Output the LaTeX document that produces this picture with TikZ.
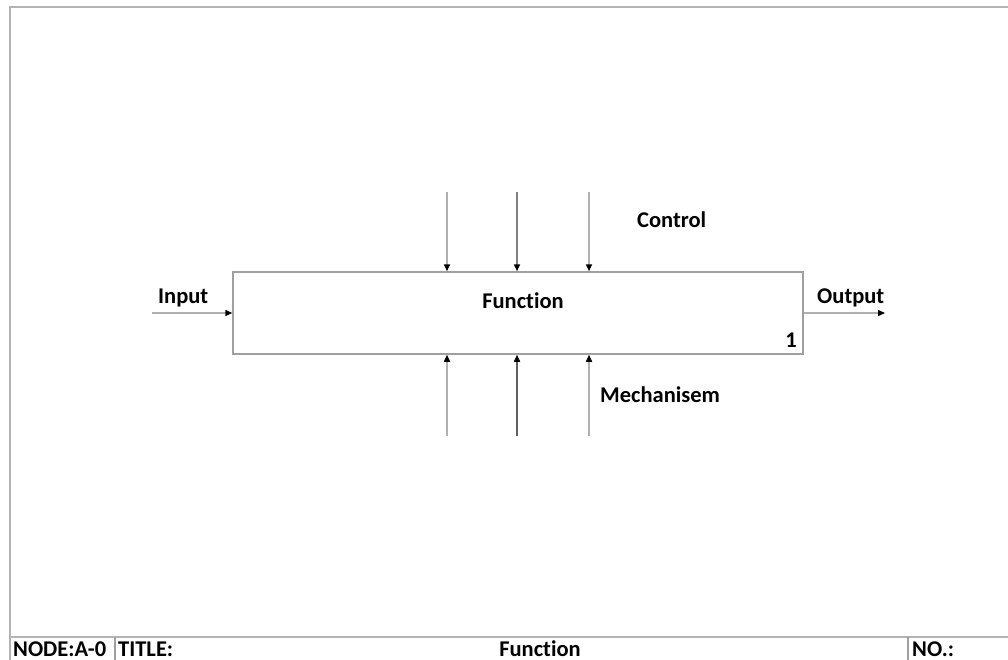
\documentclass[tikz,border=0pt]{standalone}
\usepackage{fontspec}
\setmainfont{Carlito}[Ligatures=NoCommon]
\usetikzlibrary{arrows.meta}
\definecolor{framegray}{HTML}{B4B4B4}
\definecolor{boxgray}{HTML}{A0A0A0}
\definecolor{arrowgray}{HTML}{B0B0B0}
\definecolor{darkarrow}{HTML}{606060}
\tikzset{
  frameline/.style={draw=framegray, line width=2pt},
  cellline/.style={draw=boxgray, line width=1.2pt},
  funcbox/.style={draw=boxgray, line width=1.5pt, minimum width=570pt, minimum height=82pt, inner sep=0pt},
  flow/.style={draw=arrowgray, line width=1.5pt, -{Triangle[length=7pt,width=6pt,color=black]}},
  lbl/.style={font=\bfseries\fontsize{22.5}{26}\selectfont, inner sep=0pt},
}
\begin{document}
\begin{tikzpicture}[x=1pt,y=-1pt]
\useasboundingbox (0,0) rectangle (1008,660);
% sheet frame
\draw[frameline] (10,660) -- (10,7) -- (1008,7);
\draw[frameline] (10,637) -- (1008,637);
\draw[cellline] (115,637) -- (115,660);
\draw[cellline] (908,637) -- (908,660);
% title strip
\node[lbl, anchor=base west] (nodeid) at (13,656) {NODE:A-0};
\node[lbl, anchor=base west] (title) at (118,656) {TITLE:};
\node[lbl, anchor=base] (titletext) at (540,656) {Function};
\node[lbl, anchor=base west] (number) at (912,656) {NO.:};
% activity box
\node[funcbox] (fn) at (518,313) {};
\node[lbl, anchor=base] (fnlabel) at (523,308) {Function};
\node[lbl, anchor=base east] (fnnum) at (797,347) {1};
% input and output
\coordinate (inA) at (152,313);
\coordinate (outB) at (885,313);
\draw[flow] (inA) -- (fn.west);
\draw[flow] (fn.east) -- (outB);
\node[lbl, anchor=base west] (inlabel) at (158,303) {Input};
\node[lbl, anchor=base west] (outlabel) at (817,303) {Output};
% controls
\coordinate (c1) at (447,192);
\coordinate (c2) at (517,192);
\coordinate (c3) at (589,192);
\draw[flow] (c1) -- (c1 |- fn.north);
\draw[flow, draw=gray] (c2) -- (c2 |- fn.north);
\draw[flow] (c3) -- (c3 |- fn.north);
\node[lbl, anchor=base west] (ctrl) at (637,228) {Control};
% mechanisms
\coordinate (m1) at (447,436);
\coordinate (m2) at (517,436);
\coordinate (m3) at (589,436);
\draw[flow] (m1) -- (m1 |- fn.south);
\draw[flow, draw=darkarrow] (m2) -- (m2 |- fn.south);
\draw[flow] (m3) -- (m3 |- fn.south);
\node[lbl, anchor=base west] (mech) at (600,402) {Mechanisem};
\end{tikzpicture}
\end{document}
